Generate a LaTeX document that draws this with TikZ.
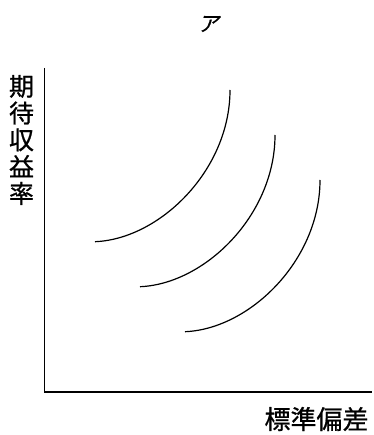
\documentclass[tikz,border=0pt]{standalone}
\usepackage{fontspec}
\newfontfamily\cjk[FakeBold=0.8]{Noto Sans CJK JP}
\begin{document}
\begin{tikzpicture}[x=1pt,y=-1pt,
  axis/.style={line width=1.5pt,black},
  curve/.style={line width=1.2pt,black},
  lbl/.style={font=\cjk\fontsize{25}{26.8}\selectfont,inner sep=0pt}]
\useasboundingbox (0,0) rectangle (373,435);
\coordinate (O) at (44.5,392);
\coordinate (Ytop) at (44.5,68);
\coordinate (Xend) at (372,392);
\draw[axis] (Ytop) -- (O) -- (Xend);
\coordinate (a1) at (95,241.7); \coordinate (b1) at (230,90);
\coordinate (a2) at (140,286.7); \coordinate (b2) at (275,135);
\coordinate (a3) at (185,331.7); \coordinate (b3) at (320,180);
\draw[curve] (a1) .. controls +(65,-2.7) and +(0,80) .. (b1);
\draw[curve] (a2) .. controls +(65,-2.7) and +(0,80) .. (b2);
\draw[curve] (a3) .. controls +(65,-2.7) and +(0,80) .. (b3);
\node[lbl,font=\cjk\fontsize{21}{24}\selectfont,xslant=0.25] (title) at (210,24) {ア};
\node[lbl,align=center] (ylab) at (21.5,140) {期\\待\\収\\益\\率};
\node[lbl,font=\cjk\fontsize{26}{28}\selectfont] (xlab) at (316.5,419) {標準偏差};
\end{tikzpicture}
\end{document}
